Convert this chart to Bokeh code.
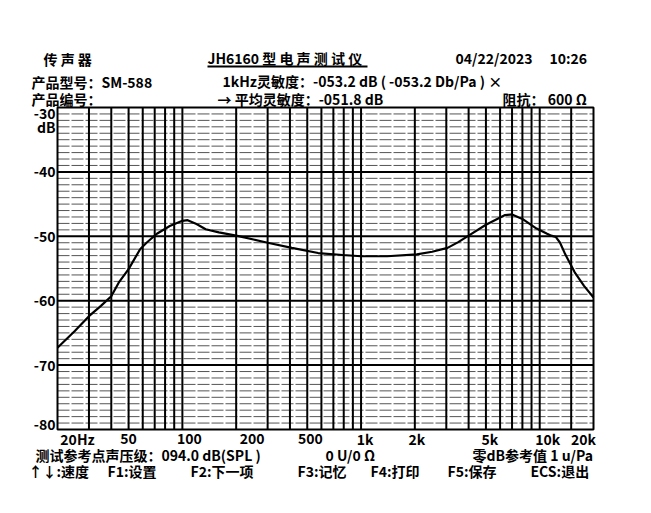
import math
from bokeh.plotting import figure
from bokeh.models import Label, Range1d, BoxAnnotation
from bokeh.embed import file_html
from bokeh.resources import INLINE

# ---------------- data ----------------
freq_hz = [20, 25, 30, 35, 40, 44, 50, 58, 63, 72, 85, 100, 107, 120, 135,
           160, 200, 250, 300, 410, 575, 790, 1000, 1400, 2050, 2500, 3050,
           3500, 4000, 5000, 6400, 7000, 8000, 9600, 11000, 11600, 12300,
           13000, 13900, 15700, 17700, 20000]
level_db = [-67.3, -64.7, -62.4, -60.8, -59.3, -57.2, -55.1, -52.0, -51.0,
            -49.6, -48.4, -47.6, -47.5, -48.1, -48.9, -49.4, -49.9, -50.5,
            -51.0, -51.8, -52.6, -52.9, -53.1, -53.1, -52.8, -52.4, -51.8,
            -50.9, -49.9, -48.2, -46.7, -46.6, -47.3, -48.8, -49.6, -49.9,
            -50.1, -51.0, -52.8, -55.6, -57.7, -59.5]

f_min, f_max = 20, 20000
db_min, db_max = -80, -30
grid_freqs = [30, 40, 50, 60, 70, 80, 90, 100, 200, 300, 400, 500, 600, 700,
              800, 900, 1000, 2000, 3000, 4000, 5000, 6000, 7000, 8000, 9000,
              10000, 15000]
major_db = [-40, -50, -60, -70]
minor_db = [v for v in range(-79, -30) if v % 10 != 0]

x_tick_values = [20, 50, 100, 200, 500, 1000, 2000, 5000, 10000, 20000]
x_tick_labels = ["20Hz", "50", "100", "200", "500", "1k", "2k", "5k", "10k", "20k"]
y_tick_values = [-30, -40, -50, -60, -70, -80]
y_tick_labels = ["-30", "-40", "-50", "-60", "-70", "-80"]

FONT = "Noto Sans CJK SC"
FS = "14px"

# ---------------- layout (page pixels) ----------------
W, H = 635, 497
PAGE0 = 0
BOX_L, BOX_R, BOX_T, BOX_B = 57, 593, 107, 429

dec_per_px = (math.log10(f_max) - math.log10(f_min)) / (BOX_R - BOX_L)
db_per_px = (db_max - db_min) / (BOX_B - BOX_T)
x_start = 10 ** (math.log10(f_min) - (BOX_L - PAGE0) * dec_per_px)
x_end = 10 ** (math.log10(f_max) + (PAGE0 + W - BOX_R) * dec_per_px)
y_top = db_max + (BOX_T - PAGE0) * db_per_px
y_bot = db_min - (PAGE0 + H - BOX_B) * db_per_px

p = figure(width=W, height=H, x_axis_type="log",
           x_range=Range1d(x_start, x_end), y_range=Range1d(y_bot, y_top),
           x_axis_location=None, y_axis_location=None,
           output_backend="svg", toolbar_location=None,
           min_border=0)
p.outline_line_color = None
p.grid.visible = False
p.background_fill_color = "white"
p.border_fill_color = "white"

# thin 1 dB lines
p.segment(x0=[f_min] * len(minor_db), y0=minor_db, x1=[f_max] * len(minor_db),
          y1=minor_db, line_color="#555555", line_width=1, line_dash="12 2")
# bold 10 dB lines
p.segment(x0=[f_min] * len(major_db), y0=major_db, x1=[f_max] * len(major_db),
          y1=major_db, line_color="black", line_width=2)
# frequency lines
p.segment(x0=grid_freqs, y0=[db_min] * len(grid_freqs), x1=grid_freqs,
          y1=[db_max] * len(grid_freqs), line_color="black", line_width=2)
# frame
p.quad(left=[f_min], right=[f_max], bottom=[db_min], top=[db_max],
       fill_color=None, line_color="black", line_width=2)

p.line(freq_hz, level_db, line_color="black", line_width=2.2)


def sx(X):
    return X - PAGE0


def sy(Y):
    return PAGE0 + H - Y


def lab(**kw):
    base = dict(text_baseline="middle", text_font=FONT, text_font_style="bold",
                text_font_size=FS, text_color="black")
    base.update(kw)
    p.add_layout(Label(**base))


# ---- tick labels ----
x_offsets = [20, 0, 7, 16, 3, 4, 2, 4, 8, -10]
for v, t, dx in zip(x_tick_values, x_tick_labels, x_offsets):
    lab(x=v, y=sy(438), x_units="data", y_units="screen", text=t,
        x_offset=dx, text_align="center")
y_offsets = [-6, 0, 0, 0, 0, 5]
for v, t, dy in zip(y_tick_values, y_tick_labels, y_offsets):
    lab(x=sx(55), y=v, x_units="screen", y_units="data", text=t,
        y_offset=dy, text_align="right")
lab(x=sx(55), y=db_max, x_units="screen", y_units="data", text="dB",
    y_offset=-19, text_align="right")

# ---- page texts ----
texts = [
    ("传 声 器", 43, 58),
    ("JH6160 型 电 声 测 试 仪", 207, 57),
    ("04/22/2023", 455, 57),
    ("10:26", 549, 57),
    ("产品型号：SM-588", 31, 81),
    ("1kHz灵敏度：-053.2 dB ( -053.2 Db/Pa ) ×", 222, 80),
    ("产品编号：", 31, 98),
    ("→ 平均灵敏度：-051.8 dB", 217, 98),
    ("阻抗： 600 Ω", 502, 98),
    ("测试参考点声压级：094.0 dB(SPL )", 35, 454),
    ("0 U/0 Ω", 325, 454),
    ("零dB参考值 1 u/Pa", 472, 454),
    ("↑↓:速度", 28, 470),
    ("F1:设置", 107, 470),
    ("F2:下一项", 190, 470),
    ("F3:记忆", 297, 470),
    ("F4:打印", 370, 470),
    ("F5:保存", 447, 470),
    ("ECS:退出", 530, 470),
]
for t, X, Y in texts:
    lab(x=sx(X), y=sy(Y), x_units="screen", y_units="screen", text=t,
        text_align="left")

# underline of the instrument name
p.add_layout(BoxAnnotation(left=sx(207), right=sx(367), bottom=sy(67), top=sy(65),
                           left_units="screen", right_units="screen",
                           bottom_units="screen", top_units="screen",
                           fill_color="black", fill_alpha=1, line_alpha=0))

open("out.html", "w").write(file_html(p, INLINE))
